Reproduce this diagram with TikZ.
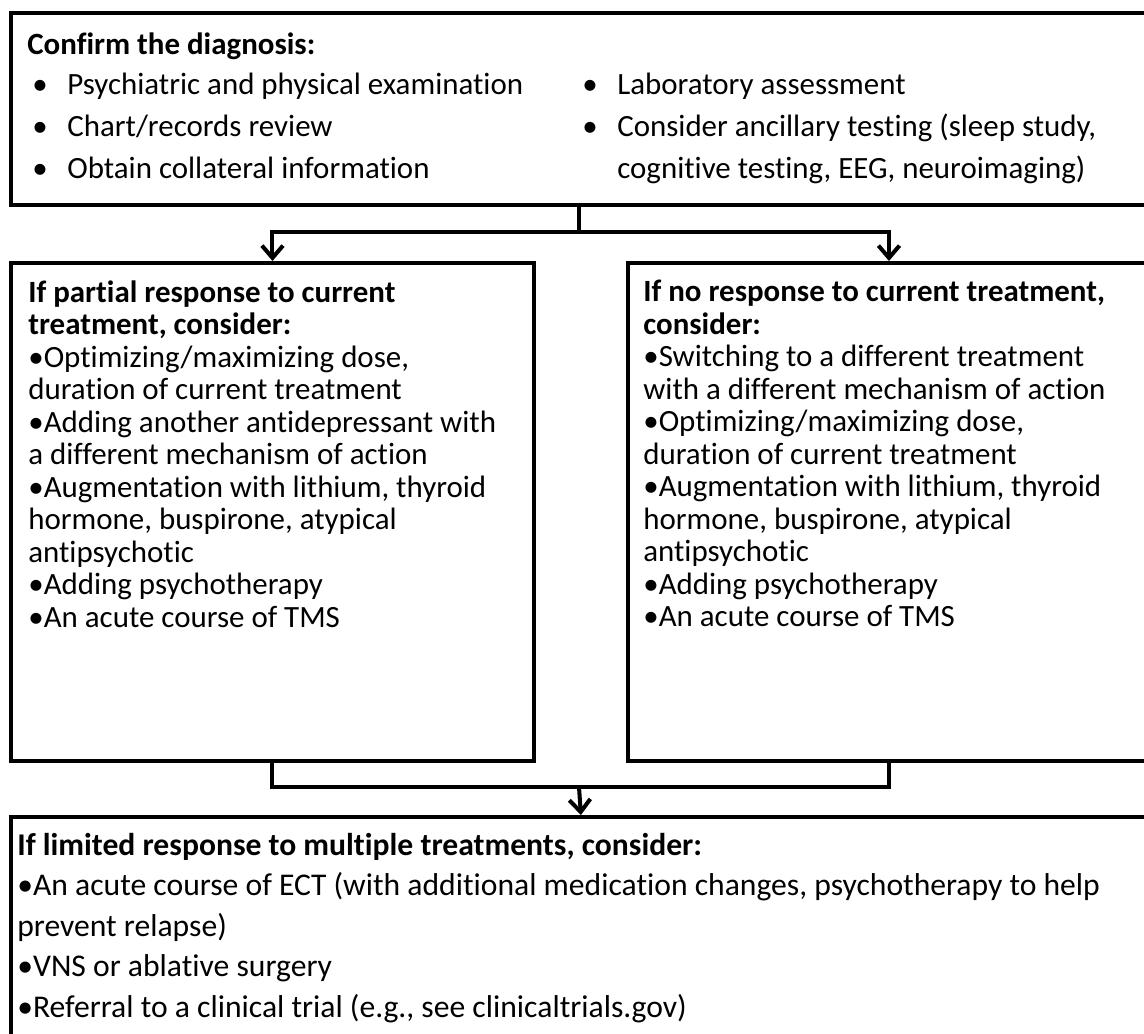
\documentclass[tikz,border=0pt]{standalone}
\usepackage{fontspec}
\setmainfont{Carlito}[Ligatures=NoCommon]
\usepackage{tikz}
\usetikzlibrary{positioning}
\usetikzlibrary{arrows.meta}
\tikzset{
    x=0.02cm, y=-0.02cm,
    box/.style = {draw, line width=2.3pt, inner sep=0, anchor=north west},
    flow/.style = {line width=2.3pt},
    flow arrow/.style = {flow, -{Straight Barb[length=7pt,width=12pt]}},
    top text/.style = {anchor=north west, inner sep=0, align=left, font=\fontsize{17.6}{23.9}\selectfont},
    side text/.style = {anchor=north west, inner sep=0, align=left, font=\fontsize{17.6}{18.5}\selectfont},
    last text/.style = {anchor=north west, inner sep=0, align=left, font=\fontsize{18}{23}\selectfont}
}
\newcommand{\bul}{\makebox[0.7cm][l]{\textbullet}}

\begin{document}
\begin{tikzpicture}
    \clip (0,0) rectangle (1144,1034);
    \fill[white] (0,0) rectangle (1144,1034);
    % boxes
    \node(diag)[box, minimum width=22.8cm, minimum height=3.84cm] at (9,11) {};
    \node(partial)[box, minimum width=10.46cm, minimum height=9.96cm] at (9,261) {};
    \node(none)[box, minimum width=10.44cm, minimum height=9.96cm] at (626,261) {};
    \node(limited)[box, minimum width=22.8cm, minimum height=5cm] at (9,815) {};
    % texts
    \node(diag title)[top text] at (27,32) {\textbf{Confirm the diagnosis:}};
    \node(diag left)[top text] at (32,73) {\bul Psychiatric and physical examination\\
        \bul Chart/records review\\
        \bul Obtain collateral information};
    \node(diag right)[top text] at (582,73) {\bul Laboratory assessment\\
        \bul Consider ancillary testing (sleep study,\\
        \hspace*{0.7cm}cognitive testing, EEG, neuroimaging)};
    \node(partial text)[side text] at (28,280) {\textbf{If partial response to current}\\
        \textbf{treatment, consider:}\\
        \textbullet Optimizing/maximizing dose,\\
        duration of current treatment\\
        \textbullet Adding another antidepressant with\\
        a different mechanism of action\\
        \textbullet Augmentation with lithium, thyroid\\
        hormone, buspirone, atypical\\
        antipsychotic\\
        \textbullet Adding psychotherapy\\
        \textbullet An acute course of TMS};
    \node(none text)[side text] at (643,280) {\textbf{If no response to current treatment,}\\
        \textbf{consider:}\\
        \textbullet Switching to a different treatment\\
        with a different mechanism of action\\
        \textbullet Optimizing/maximizing dose,\\
        duration of current treatment\\
        \textbullet Augmentation with lithium, thyroid\\
        hormone, buspirone, atypical\\
        antipsychotic\\
        \textbullet Adding psychotherapy\\
        \textbullet An acute course of TMS};
    \node(limited text)[last text] at (17,833) {\textbf{If limited response to multiple treatments, consider:}\\
        \textbullet An acute course of ECT (with additional medication changes, psychotherapy to help\\
        prevent relapse)\\
        \textbullet VNS or ablative surgery\\
        \textbullet Referral to a clinical trial (e.g., see clinicaltrials.gov)};
    % connectors
    \coordinate(split) at (579,232);
    \coordinate(join) at (579,787);
    \draw[flow](diag.south -| split)--(split);
    \draw[flow arrow](split) -| (partial.north);
    \draw[flow arrow](split) -| (none.north);
    \draw[flow](partial.south) -- (partial.south |- join) -| (none.south);
    \draw[flow arrow](join)--(limited.north);
\end{tikzpicture}
\end{document}
